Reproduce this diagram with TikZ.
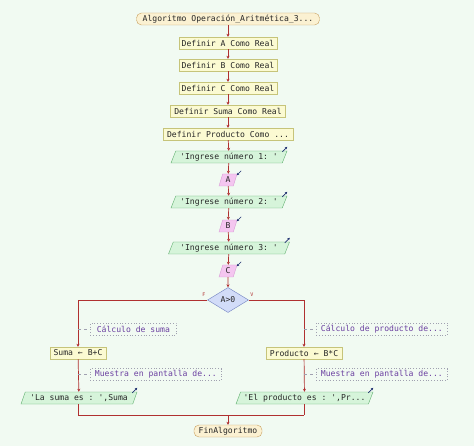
\documentclass[tikz,border=0pt]{standalone}
\usepackage{fontspec}
\setmonofont{DejaVu Sans Mono}
\usetikzlibrary{shapes.geometric,arrows.meta}
\definecolor{bgc}{HTML}{F1FAF2}
\definecolor{procf}{HTML}{FBFAD2}
\definecolor{procd}{HTML}{C6C47A}
\definecolor{termf}{HTML}{FBF1D2}
\definecolor{termd}{HTML}{C8A060}
\definecolor{iof}{HTML}{D6F4DA}
\definecolor{iod}{HTML}{5DAE6C}
\definecolor{rdf}{HTML}{F4C6F0}
\definecolor{rdd}{HTML}{B060B0}
\definecolor{dmf}{HTML}{D2DCF8}
\definecolor{dmd}{HTML}{7080C0}
\definecolor{arr}{HTML}{B03030}
\definecolor{cmt}{HTML}{6A3FA0}
\definecolor{cmd}{HTML}{A0A0B0}
\definecolor{ico}{HTML}{203070}
\tikzset{
  every node/.style={font=\ttfamily\fontsize{8.1}{9}\selectfont, text=black!85},
  term/.style={draw=termd, fill=termf, rounded corners=5pt, minimum height=12pt, inner xsep=2pt, inner ysep=1pt},
  proc/.style={draw=procd, fill=procf, minimum height=12pt, inner xsep=2pt, inner ysep=1pt},
  iobox/.style={draw=iod, fill=iof, trapezium, trapezium left angle=65, trapezium right angle=115, trapezium stretches body, minimum height=12pt, inner ysep=1pt, inner xsep=0pt},
  rdbox/.style={draw=rdf!60!rdd, fill=rdf, trapezium, trapezium left angle=65, trapezium right angle=115, trapezium stretches body, minimum height=12pt, minimum width=18pt, inner sep=1pt},
  dec/.style={draw=dmd, fill=dmf, diamond, aspect=1.7, minimum width=41pt, minimum height=25pt, inner sep=0pt},
  cmtbox/.style={draw=cmd, dotted, thick, text=cmt, minimum height=12pt, inner xsep=2pt, inner ysep=1pt, anchor=west},
  cmtline/.style={draw=cmd, dashed},
  flow/.style={draw=arr, line width=0.7pt, -{Stealth[length=3pt,width=3pt]}},
  flown/.style={draw=arr, line width=0.7pt},
  lbl/.style={font=\ttfamily\fontsize{5}{6}\selectfont, text=arr},
  outic/.style={draw=ico, line width=0.6pt, -{Stealth[length=2.5pt,width=2.5pt]}},
}
\begin{document}
\begin{tikzpicture}[x=1pt,y=-1pt]
\fill[bgc] (0,0) rectangle (474,446);
\useasboundingbox (0,0) rectangle (474,446);

\node[term, minimum width=183pt] (start) at (228,19) {Algoritmo Operación\_Aritmética\_3...};
\node[proc, minimum width=98pt] (da) at (228,43) {Definir A Como Real};
\node[proc, minimum width=98pt] (db) at (228,65) {Definir B Como Real};
\node[proc, minimum width=98pt] (dc) at (228,88) {Definir C Como Real};
\node[proc, minimum width=115pt] (ds) at (228,111) {Definir Suma Como Real};
\node[proc, minimum width=130pt] (dp) at (228,134) {Definir Producto Como ...};
\node[iobox, minimum width=116pt] (i1) at (229,157) {'Ingrese número 1: '};
\node[rdbox] (ra) at (228,180) {A};
\node[iobox, minimum width=116pt] (i2) at (229,202) {'Ingrese número 2: '};
\node[rdbox] (rb) at (228,226) {B};
\node[iobox, minimum width=121pt] (i3) at (229,248) {'Ingrese número 3: '};
\node[rdbox] (rc) at (228,271) {C};
\node[dec] (cond) at (228,300) {A>0};
\node[lbl] (lf) at (204,295) {F};
\node[lbl] (lv) at (252,295) {V};

\coordinate (cl) at (78,300);
\coordinate (cr) at (304,300);

\node[cmtbox, minimum width=86pt] (c1) at (90,329) {Cálculo de suma};
\node[proc, minimum width=56pt] (suma) at (78,353) {Suma ← B+C};
\node[cmtbox, minimum width=131pt] (c2) at (90,374.5) {Muestra en pantalla de...};
\node[iobox, minimum width=116pt] (ol) at (79,398) {'La suma es : ',Suma};

\node[cmtbox, minimum width=131pt] (c3) at (316,329) {Cálculo de producto de...};
\node[proc, minimum width=76pt] (prod) at (304,353) {Producto ← B*C};
\node[cmtbox, minimum width=131pt] (c4) at (316,374.5) {Muestra en pantalla de...};
\node[iobox, minimum width=137pt] (or) at (304.5,398) {'El producto es : ',Pr...};

\coordinate (ml) at (78,415);
\coordinate (mr) at (304,415);
\coordinate (mc) at (228,415);
\node[term, minimum width=68pt] (fin) at (228,431) {FinAlgoritmo};

% main chain
\draw[flow] (start) -- (da);
\draw[flow] (da) -- (db);
\draw[flow] (db) -- (dc);
\draw[flow] (dc) -- (ds);
\draw[flow] (ds) -- (dp);
\draw[flow] (dp) -- (i1);
\draw[flow] (i1) -- (ra);
\draw[flow] (ra) -- (i2);
\draw[flow] (i2) -- (rb);
\draw[flow] (rb) -- (i3);
\draw[flow] (i3) -- (rc);
\draw[flow] (rc) -- (cond);

% branches
\draw[flow] (cond.west) -- (cl) -- (suma.north);
\draw[flow] (cond.east) -- (cr) -- (prod.north);
\draw[flow] (suma) -- (ol);
\draw[flow] (prod) -- (or);
\draw[flown] (ol.south -| ml) -- (ml) -- (mr);
\draw[flown] (or.south -| mr) -- (mr);
\draw[flow] (mc) -- (fin);

% comments
\draw[cmtline] (c1.west -| cl) -- (c1.west);
\draw[cmtline] (c2.west -| cl) -- (c2.west);
\draw[cmtline] (c3.west -| cr) -- (c3.west);
\draw[cmtline] (c4.west -| cr) -- (c4.west);

% output icons
\foreach \n in {i1,i2,i3,ol,or} {
  \draw[outic] ([xshift=-5pt,yshift=-1pt]\n.top right corner) -- ++(5,-5);
}
% input icons
\foreach \n in {ra,rb,rc} {
  \draw[outic] ([xshift=4pt,yshift=3pt]\n.top right corner) -- ++(-4.5,4.5);
}
\end{tikzpicture}
\end{document}
